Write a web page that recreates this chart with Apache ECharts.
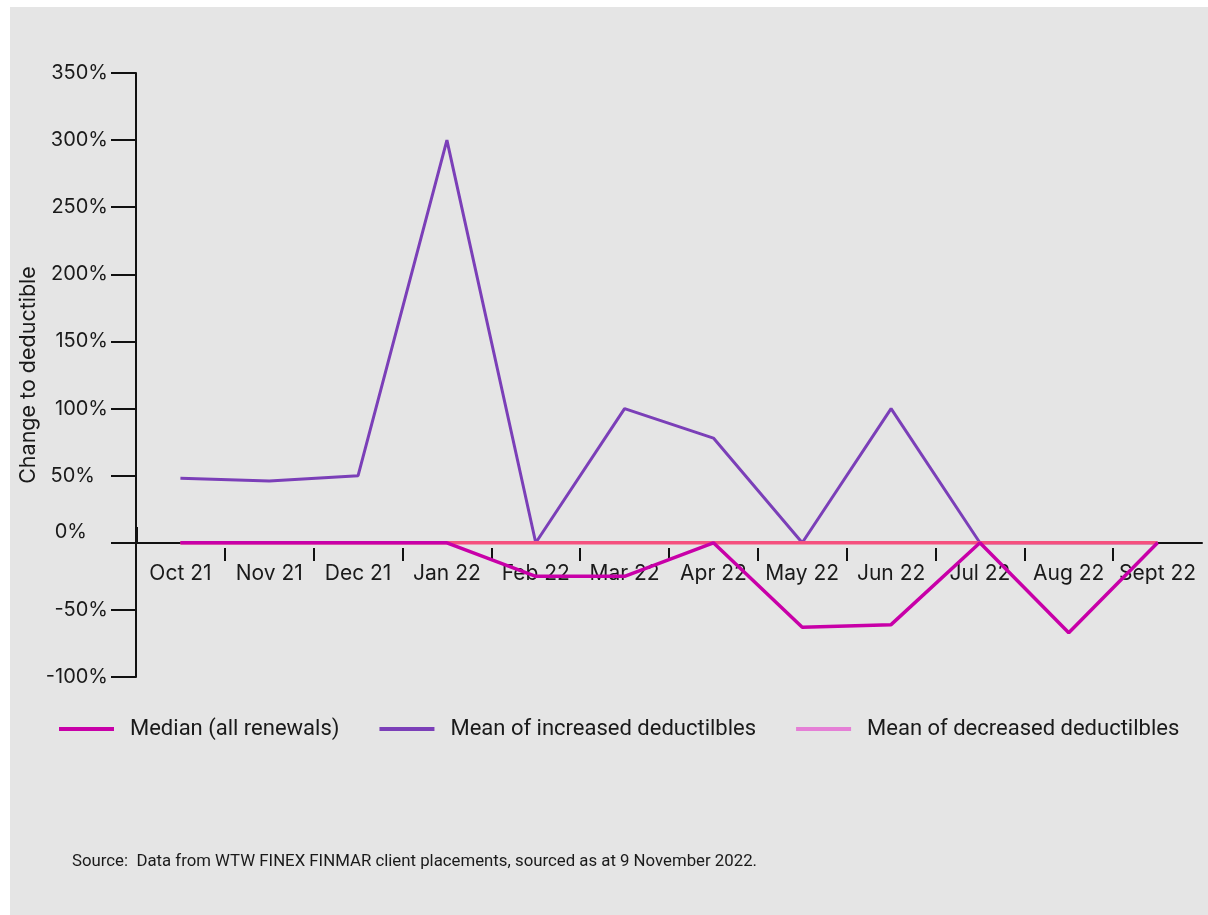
<!DOCTYPE html>
<html>
<head>
<meta charset="utf-8">
<script src="https://cdn.jsdelivr.net/npm/echarts@6/dist/echarts.min.js"></script>
<style>
html,body{margin:0;padding:0;background:#ffffff;}
#wrap{position:absolute;left:10px;top:7px;width:1198px;height:908px;background:#e5e5e5;}
#chart{position:absolute;left:0;top:0;width:1208px;height:915px;}
</style>
</head>
<body>
<div id="wrap"></div>
<div id="chart"></div>
<script>
const categories = ['Oct 21','Nov 21','Dec 21','Jan 22','Feb 22','Mar 22','Apr 22','May 22','Jun 22','Jul 22','Aug 22','Sept 22'];
const medianAll = [0, 0, 0, 0, -25, -25, 0, -63, -61, 0, -67, 0];
const meanIncreased = [48, 46, 50, 300, 0, 100, 78, 0, 100, 0, 0, 0];
const meanDecreased = [0, 0, 0, 0, 0, 0, 0, 0, 0, 0, 0, 0];
const yTicks = [-100, -50, 0, 50, 100, 150, 200, 250, 300, 350];
const boundaryTicks = [1, 2, 3, 4, 5, 6, 7, 8, 9, 10, 11];

const chart = echarts.init(document.getElementById('chart'), null, {renderer:'canvas'});
const axisFont = 'Inter';
chart.setOption({
  backgroundColor: 'transparent',
  animation: false,
  grid: {left: 136, right: 6, top: 73, bottom: 238, containLabel: false},
  legend: {
    left: 54, top: 713, itemWidth: 55, itemHeight: 4, itemGap: 40,
    icon: 'rect',
    textStyle: {fontFamily: 'Roboto', fontSize: 22, color: '#1a1a1a', padding: [0,0,0,11]},
    data: [
      {name: 'Median (all renewals)', itemStyle: {color: '#c800a8'}},
      {name: 'Mean of increased deductilbles', itemStyle: {color: '#7b3fb8'}},
      {name: 'Mean of decreased deductilbles', itemStyle: {color: '#e57fd6'}}
    ]
  },
  graphic: [{
    type: 'text', left: 72, top: 853,
    style: {text: 'Source:  Data from WTW FINEX FINMAR client placements, sourced as at 9 November 2022.', fontFamily: 'Roboto', fontSize: 16.8, fill: '#1a1a1a'}
  }, {
    type: 'rect', shape: {x: 135, y: 527, width: 3, height: 16}, style: {fill: '#111'}, z: 10
  }],
  xAxis: [{
    type: 'category', data: categories, boundaryGap: true, position: 'bottom',
    offset: -134,
    axisLine: {onZero: false, lineStyle: {color: '#111', width: 2}},
    axisTick: {show: false},
    axisLabel: {interval: 0, margin: 20, fontFamily: axisFont, fontSize: 21, color: '#1a1a1a'},
    splitLine: {show: false}
  }, {
    type: 'value', min: 0, max: 12, position: 'bottom',
    offset: -129,
    axisLine: {show: false, onZero: false},
    axisTick: {show: true, length: 13, customValues: boundaryTicks, lineStyle: {color: '#111', width: 2}},
    axisLabel: {show: false},
    splitLine: {show: false}
  }],
  yAxis: {
    type: 'value', min: -100, max: 350, interval: 50,
    name: 'Change to deductible', nameLocation: 'middle', nameGap: 96, nameMoveOverlap: false,
    nameTextStyle: {fontFamily: axisFont, fontSize: 21.5, color: '#1a1a1a'},
    axisLine: {show: true, onZero: false, lineStyle: {color: '#111', width: 2}},
    axisTick: {show: true, length: 25, lineStyle: {color: '#111', width: 2}},
    axisLabel: {
      margin: 28, fontFamily: axisFont, fontSize: 20, color: '#1a1a1a',
      formatter: function (v) {
        if (yTicks.indexOf(v) < 0) return '';
        if (v === 0) return '{z|0%}';
        if (v === 50) return '{f|50%}';
        return v + '%';
      },
      rich: {
        z: {fontFamily: axisFont, fontSize: 20, color: '#1a1a1a', padding: [0, 21, 22, 0]},
        f: {fontFamily: axisFont, fontSize: 20, color: '#1a1a1a', padding: [0, 13, 0, 0]}
      }
    },
    splitLine: {show: false}
  },
  series: [
    {name: 'Mean of increased deductilbles', type: 'line', data: meanIncreased, symbol: 'none',
      lineStyle: {color: '#7b3fb8', width: 3}, itemStyle: {color: '#7b3fb8'}, z: 2},
    {name: 'Mean of decreased deductilbles', type: 'line', data: meanDecreased, symbol: 'none',
      lineStyle: {color: '#f5507e', width: 3.5}, itemStyle: {color: '#e57fd6'}, z: 3},
    {name: 'Median (all renewals)', type: 'line', data: medianAll, symbol: 'none',
      lineStyle: {color: '#c800a8', width: 3.5}, itemStyle: {color: '#c800a8'}, z: 4}
  ]
});
</script>
</body>
</html>
